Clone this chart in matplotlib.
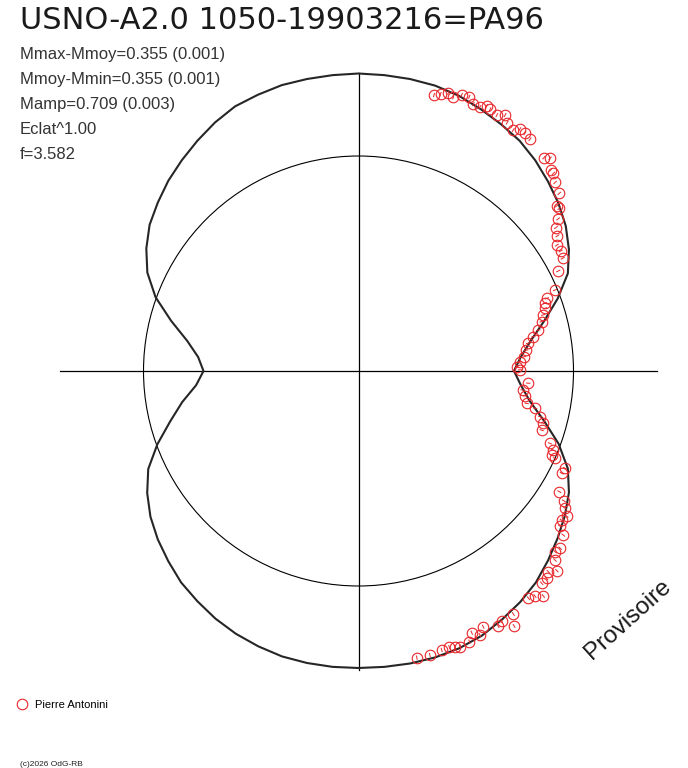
import numpy as np
import matplotlib
matplotlib.use("Agg")
import matplotlib.pyplot as plt
from matplotlib.patches import Circle
from matplotlib.collections import LineCollection

plt.rcParams['font.family'] = ['Liberation Sans', 'DejaVu Sans']

TITLE = "USNO-A2.0 1050-19903216=PA96"
STATS = ["Mmax-Mmoy=0.355 (0.001)",
         "Mmoy-Mmin=0.355 (0.001)",
         "Mamp=0.709 (0.003)",
         "Eclat^1.00",
         "f=3.582"]
OBSERVER = "Pierre Antonini"
STAMP = "(c)2026 OdG-RB"
WATERMARK = "Provisoire"

# radius of the mean-brightness circle (same units as the radii below)
MEAN_R = 215

# fitted curve: polar angle (deg) -> radius (flux scale)
curve_deg = np.arange(0, 360, 5)
curve_r = [155.5, 163, 175, 192, 212, 231, 243, 253, 261, 268,
           275, 281, 285, 289, 293, 295.5, 296.5, 297, 297.5, 297,
           296.5, 296, 294, 292, 287, 281, 275, 269, 262, 255,
           245, 233, 216, 194, 174, 161, 155, 163, 179, 195,
           214, 232, 244, 254, 262, 269, 276, 281, 286, 290,
           293, 295.5, 296.5, 297, 297, 297, 297, 296.5, 295, 292,
           287, 282, 276, 268, 260, 252, 243, 231, 213, 192,
           174, 163]

# observations (Pierre Antonini): polar angle (deg), radius
obs_deg = [74.7, 73.5, 72.1, 70.9, 69.5, 68.0, 66.7, 65.3, 64.2, 63.3,
           61.6, 60.2, 59.1, 57.3, 56.3, 55.0, 53.5, 49.0, 48.0, 46.3,
           45.4, 43.8, 41.5, 39.8, 39.0, 37.3, 36.0, 34.2, 32.4, 30.7,
           28.9, 26.6, 22.4, 21.1, 20.0, 18.6, 16.9, 15.1, 12.8, 11.1,
           9.3, 7.1, 4.9, 3.3, 1.3, 0.4, -4.1, -6.6, -8.5, -10.9,
           -11.9, -14.1, -15.8, -17.9, -20.7, -22.1, -23.5, -24.0, -25.2, -26.7,
           -31.0, -32.3, -33.6, -34.9, -36.3, -37.6, -38.7, -41.3, -42.6, -43.9,
           -46.6, -45.2, -47.8, -49.2, -51.9, -53.2, -50.6, -57.5, -58.6, -61.3,
           -60.2, -64.0, -65.3, -66.6, -67.7, -69.8, -70.7, -71.8, -73.4, -75.9,
           -78.5]
obs_r = [286.1, 288.9, 292.4, 289.7, 294.7, 295.8, 290.6, 290.3, 294.4, 292.9,
         290.9, 295.0, 289.5, 286.4, 290.7, 290.2, 288.3, 282.7, 286.2, 278.1,
         277.5, 272.4, 268.1, 258.1, 258.4, 251.0, 244.0, 240.5, 234.9, 235.1,
         233.2, 223.4, 212.5, 201.8, 198.4, 196.8, 193.1, 189.7, 184.4, 178.1,
         172.0, 168.8, 166.1, 161.8, 158.2, 161.5, 170.2, 165.3, 168.4, 171.3,
         180.4, 187.2, 192.1, 192.5, 204.7, 210.2, 210.7, 215.0, 228.3, 227.5,
         234.3, 243.0, 248.0, 253.7, 252.0, 254.2, 262.4, 268.4, 267.0, 272.6,
         276.2, 281.4, 280.0, 280.4, 286.0, 283.7, 291.2, 288.1, 298.7, 290.8,
         287.8, 284.5, 290.6, 285.1, 292.5, 293.8, 292.7, 290.8, 291.1, 292.9,
         292.5]
OBS_ERR = 2.2

W, H = 688, 768
CX, CY = 358.5, 371  # centre of the diagram in pixels from top-left

fig = plt.figure(figsize=(W / 100, H / 100), dpi=100)
ax = fig.add_axes([0, 0, 1, 1])
ax.set_xlim(-CX, W - CX)
ax.set_ylim(CY - H, CY)
ax.axis('off')

# axes cross and mean circle
rmax = max(curve_r) + 1
ax.plot([-rmax, rmax], [0, 0], color='black', lw=0.9)
ax.plot([0, 0], [-rmax, rmax], color='black', lw=0.9)
ax.add_patch(Circle((0, 0), MEAN_R, fill=False, color='black', lw=0.8))

# fitted curve
th = np.radians(np.append(curve_deg, 360))
rr = np.append(curve_r, curve_r[0])
ax.plot(rr * np.cos(th), rr * np.sin(th), color='#262626', lw=1.5)

# observations with radial error ticks
ot = np.radians(obs_deg)
orr = np.array(obs_r)
ox, oy = orr * np.cos(ot), orr * np.sin(ot)
segs = [[((r - OBS_ERR) * np.cos(t), (r - OBS_ERR) * np.sin(t)),
         ((r + OBS_ERR) * np.cos(t), (r + OBS_ERR) * np.sin(t))]
        for r, t in zip(orr, ot)]
ax.add_collection(LineCollection(segs, colors='#e8262a', linewidths=0.7))
pts, = ax.plot(ox, oy, 'o', mfc='none', mec='#e8262a', ms=7.6, mew=0.8,
               label=OBSERVER)

def fx(px):
    return px / W

def fy(py):
    return 1 - py / H

fig.text(fx(20), fy(29), TITLE, fontsize=22, color='#1a1a1a', va='baseline',
         family=['DejaVu Sans'])
for i, s in enumerate(STATS):
    fig.text(fx(20), fy(59 + 25 * i), s, fontsize=12, color='#333333',
             va='baseline')

fig.text(fx(628), fy(620), WATERMARK, fontsize=17.5, rotation=42,
         ha='center', va='center', color='#1a1a1a')

leg = ax.legend(handles=[pts], loc='center left',
                bbox_to_anchor=(fx(17), fy(705)), bbox_transform=fig.transFigure,
                frameon=False, fontsize=8, handlelength=0.9, handletextpad=0.7,
                borderpad=0, borderaxespad=0)

fig.text(fx(20), fy(766), STAMP, fontsize=6, color='#222222', va='baseline')

fig.savefig("out.png", dpi=100)
